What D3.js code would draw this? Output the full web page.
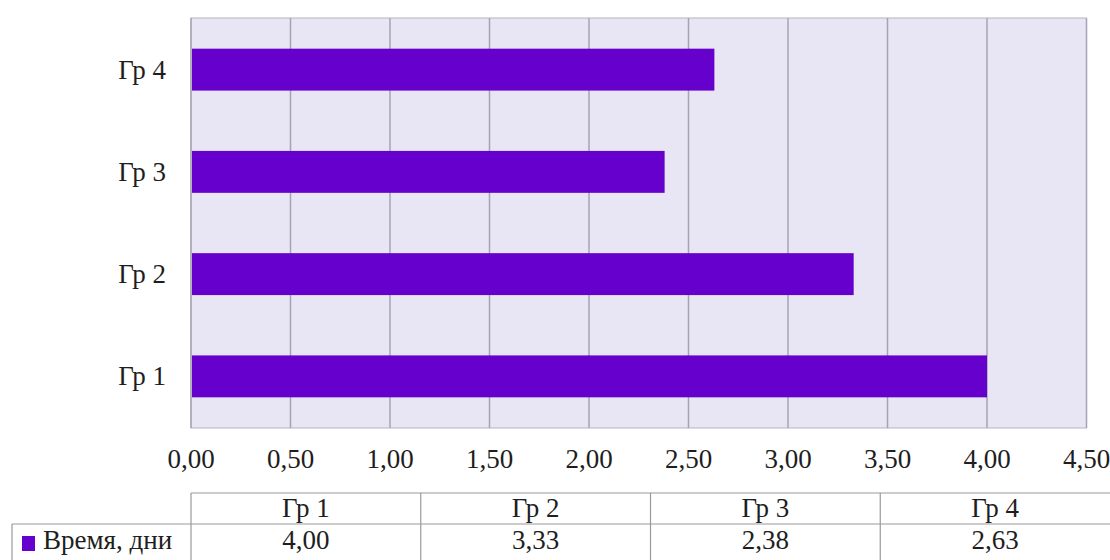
<!DOCTYPE html>
<html>
<head>
<meta charset="utf-8">
<script src="https://cdn.jsdelivr.net/npm/d3@7"></script>
<style>
  body { margin: 0; background: #fff; }
  svg { display: block; }
  svg text { font-family: "Liberation Serif", "Times New Roman", serif; }
</style>
</head>
<body>
<svg id="chart"></svg>
<script>
// Data
const groups = ["Гр 1", "Гр 2", "Гр 3", "Гр 4"];
const values = [4.00, 3.33, 2.38, 2.63];
const seriesName = "Время, дни";
const xTicks = [0, 0.5, 1, 1.5, 2, 2.5, 3, 3.5, 4, 4.5];

const width = 1110;
const height = 560;
const margin = ({top: 18, right: 24, bottom: 132, left: 191});
const barColor = "#6600cc";
const fontSize = 27;
const textColor = "#1e1e1e";
const fmt = v => d3.format(".2f")(v).replace(".", ",");

const svg = d3.select("#chart")
    .attr("width", width)
    .attr("height", height);

const x = d3.scaleLinear()
    .domain([0, 4.5])
    .range([margin.left, width - margin.right + 0.5]);
const y = d3.scaleBand()
    .domain(groups.slice().reverse())
    .range([margin.top, height - margin.bottom])
    .paddingInner(0.59)
    .paddingOuter(0.3);

// plot background
svg.append("rect")
    .attr("x", x(0))
    .attr("y", margin.top)
    .attr("width", x(4.5) - x(0))
    .attr("height", height - margin.bottom - margin.top)
    .attr("fill", "#e8e6f5")
    .attr("stroke", "#b4b4c4");

// vertical grid
svg.append("g")
    .attr("stroke", "#a4a4b4")
    .attr("stroke-width", 1.5)
    .selectAll("line")
    .data(xTicks)
    .join("line")
    .attr("x1", d => x(d))
    .attr("x2", d => x(d))
    .attr("y1", margin.top)
    .attr("y2", height - margin.bottom);

// bars
svg.append("g")
    .selectAll("rect")
    .data(groups)
    .join("rect")
    .attr("x", x(0) + 1)
    .attr("y", d => y(d))
    .attr("width", (d, i) => x(values[i]) - x(0) - 1)
    .attr("height", y.bandwidth())
    .attr("fill", barColor);

// y labels
svg.append("g")
    .attr("font-size", fontSize)
    .attr("fill", textColor)
    .attr("text-anchor", "end")
    .selectAll("text")
    .data(groups)
    .join("text")
    .attr("x", 166)
    .attr("y", d => y(d) + y.bandwidth() / 2)
    .attr("dy", "0.33em")
    .text(d => d);

// x tick labels
svg.append("g")
    .attr("font-size", fontSize)
    .attr("fill", textColor)
    .attr("text-anchor", "middle")
    .selectAll("text")
    .data(xTicks)
    .join("text")
    .attr("x", d => x(d))
    .attr("y", 468)
    .text(d => fmt(d));

// data table
const tableTop = 493;
const rowH = 31;
const colW = (width - x(0)) / groups.length;
const table = svg.append("g")
    .attr("stroke", "#9a9a9a")
    .attr("stroke-width", 1.2)
    .attr("fill", "none");

table.append("line")
    .attr("x1", x(0)).attr("x2", width)
    .attr("y1", tableTop).attr("y2", tableTop);
table.append("line")
    .attr("x1", 12).attr("x2", width)
    .attr("y1", tableTop + rowH).attr("y2", tableTop + rowH);
table.append("line")
    .attr("x1", 12).attr("x2", 12)
    .attr("y1", tableTop + rowH).attr("y2", height);
table.selectAll(".col")
    .data(d3.range(groups.length))
    .join("line")
    .attr("class", "col")
    .attr("x1", i => x(0) + i * colW)
    .attr("x2", i => x(0) + i * colW)
    .attr("y1", tableTop)
    .attr("y2", height);

const cells = svg.append("g")
    .attr("font-size", fontSize)
    .attr("fill", textColor)
    .attr("text-anchor", "middle");
cells.selectAll(".head")
    .data(groups)
    .join("text")
    .attr("class", "head")
    .attr("x", (d, i) => x(0) + (i + 0.5) * colW)
    .attr("y", tableTop + rowH / 2)
    .attr("dy", "0.33em")
    .text(d => d);
cells.selectAll(".val")
    .data(values)
    .join("text")
    .attr("class", "val")
    .attr("x", (d, i) => x(0) + (i + 0.5) * colW)
    .attr("y", tableTop + rowH * 1.5 + 1)
    .attr("dy", "0.33em")
    .text(d => fmt(d));

// legend key in table
svg.append("rect")
    .attr("x", 22)
    .attr("y", 536)
    .attr("width", 13)
    .attr("height", 15)
    .attr("fill", barColor);
svg.append("text")
    .attr("x", 43)
    .attr("y", tableTop + rowH * 1.5 + 1)
    .attr("dy", "0.33em")
    .attr("font-size", fontSize)
    .attr("fill", textColor)
    .text(seriesName);
</script>
</body>
</html>
